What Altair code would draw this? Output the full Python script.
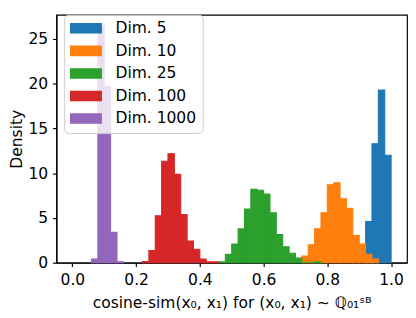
import altair as alt
import pandas as pd

series = ["Dim. 5", "Dim. 10", "Dim. 25", "Dim. 100", "Dim. 1000"]
colors = ["#1f77b4", "#ff7f0e", "#2ca02c", "#d62728", "#9467bd"]
bin_width = 0.02
bin_start = [0.92, 0.72, 0.46, 0.22, 0.06]

dens_5 = [4.6, 13.3, 19.3, 12.0]
dens_10 = [0.74, 2.0, 3.78, 5.57, 8.72, 8.93, 7.14, 6.09, 3.05, 2.1, 0.95, 0.42]
dens_25 = [0.1, 0.95, 2.1, 3.78, 5.99, 8.19, 8.09, 7.67, 5.57, 3.15, 1.79, 1.05, 0.53, 0.0, 0.0, 0.1]
dens_100 = [0.14, 1.37, 5.25, 11.34, 12.18, 9.87, 5.39, 2.42, 1.5, 0.42, 0.1, 0.1]
dens_1000 = [0.42, 26.5, 19.7, 3.4, 0.1]

x_ticks = [0.0, 0.2, 0.4, 0.6, 0.8, 1.0]
y_ticks = [0, 5, 10, 15, 20, 25]

rows = []
for name, start, dens in zip(series, bin_start, [dens_5, dens_10, dens_25, dens_100, dens_1000]):
    for i, d in enumerate(dens):
        lo = start + i * bin_width
        rows.append({"series": name, "x0": lo, "x1": lo + bin_width, "y0": 0.0, "density": d})
df = pd.DataFrame(rows)

font = "DejaVu Sans"
color_scale = alt.Scale(domain=series, range=colors)

chart = alt.Chart(df).mark_bar(strokeWidth=1.1, opacity=1).encode(
    x=alt.X("x0:Q", scale=alt.Scale(domain=[-0.05, 1.05], nice=False, zero=False),
            axis=alt.Axis(values=x_ticks, format=".1f",
                          title="cosine-sim(x₀, x₁) for (x₀, x₁) ∼ ℚ₀₁ˢᴮ")),
    x2="x1:Q",
    y=alt.Y("density:Q", scale=alt.Scale(domain=[0, 27.7], nice=False),
            axis=alt.Axis(values=y_ticks, title="Density")),
    y2="y0:Q",
    stroke=alt.Stroke("series:N", scale=color_scale, legend=None),
    color=alt.Color("series:N", sort=series, scale=color_scale,
                    legend=alt.Legend(title=None, orient="none", legendX=8, legendY=0,
                                      symbolType="M-1,-0.33H1V0.33H-1Z", symbolSize=1089,
                                      symbolStrokeWidth=0, symbolOpacity=1,
                                      clipHeight=16, rowPadding=7.3, labelOffset=14,
                                      labelFont=font, labelFontSize=16, labelColor="black",
                                      padding=6, fillColor="rgba(255,255,255,0.8)",
                                      strokeColor="#cccccc", cornerRadius=4)),
).properties(
    width=362, height=256,
    padding={"left": 0, "top": 1, "right": 1, "bottom": 0},
).configure_view(
    stroke="black", strokeWidth=1.2
).configure_axis(
    grid=False, domainColor="black", domainWidth=1.2, tickColor="black",
    tickSize=4, tickWidth=1.2, labelFont=font, labelFontSize=16, labelColor="black",
    titleFont=font, titleFontSize=16, titleFontWeight="normal", titleColor="black",
    labelPadding=5,
).configure_axisY(titlePadding=4).configure_axisX(titlePadding=8)

chart.save("out.html", embed_options={"renderer": "svg", "actions": False})
